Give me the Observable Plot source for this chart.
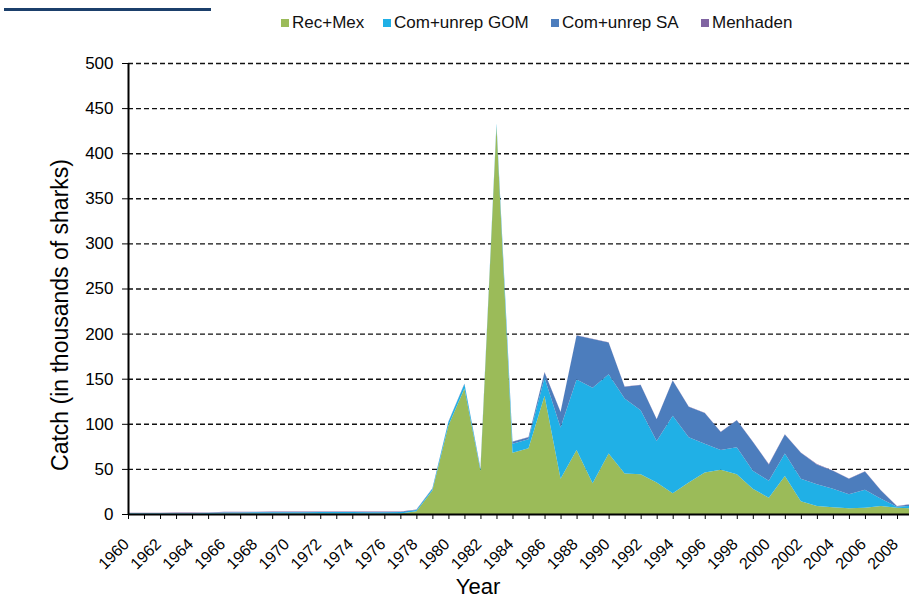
<!DOCTYPE html>
<html>
<head>
<meta charset="utf-8">
<script src="https://cdn.jsdelivr.net/npm/d3@7"></script>
<script src="https://cdn.jsdelivr.net/npm/@observablehq/plot@0.6"></script>
<style>
  html, body { margin: 0; padding: 0; background: #fff; overflow: hidden; }
  body { width: 909px; height: 598px; font-family: "Liberation Sans", Arial, sans-serif; }
  #header { position: relative; height: 40px; }
  #bar { position: absolute; left: 4px; top: 8px; width: 207px; height: 3px; background: #1B3F6B; }
  .item { position: absolute; top: 13px; font-size: 17px; color: #111; display: flex; align-items: center; white-space: nowrap; }
  .sw { width: 8px; height: 8px; margin-right: 3px; }
</style>
</head>
<body>
<div id="header"><div id="bar"></div></div>
<div id="chart"></div>
<script>
const seriesNames = ["Rec+Mex", "Com+unrep GOM", "Com+unrep SA", "Menhaden"];
const seriesColors = ["#9BBB59", "#20B0E6", "#4C7DBD", "#8064A2"];

const years = [1960,1961,1962,1963,1964,1965,1966,1967,1968,1969,
               1970,1971,1972,1973,1974,1975,1976,1977,1978,1979,
               1980,1981,1982,1983,1984,1985,1986,1987,1988,1989,
               1990,1991,1992,1993,1994,1995,1996,1997,1998,1999,
               2000,2001,2002,2003,2004,2005,2006,2007,2008,2009];

const recMex = [0.3,0.3,0.3,0.3,0.3,0.3,0.5,0.5,0.5,0.5,
                0.5,0.5,0.5,0.5,0.5,0.5,0.5,0.6,3,26,
                98,139,48,430,68,73,131,39,71,34,
                67,45,44,35,23,35,46,49,44,28,
                18,42,14,9,7.5,6.5,7,9,7,6];

const comGOM = [0.5,0.5,0.5,0.6,0.6,0.8,1.2,1.3,1.4,1.5,
                1.5,1.5,1.6,1.6,1.6,1.5,1.5,1.5,1.5,2,
                4,5,2,3,10,10,20,57,78,106,
                88,83,71,46,86,50,32,22,30,20,
                19,25,25,24,20.5,15.5,20,8,1,3];

const comSA = [0.2,0.2,0.2,0.2,0.2,0.2,0.2,0.2,0.2,0.2,
               0.2,0.2,0.2,0.2,0.2,0.2,0.2,0.2,0.3,0.3,
               0.3,0.3,0.3,0.3,2,2,6,17,49,54,
               35,13,28,24,39,34,34,20,30,32,
               18,21,29,22,20,17,20,9,0.6,2];

const menhaden = [0.5,0.5,0.5,0.5,0.5,0.5,0.5,0.5,0.5,0.5,
                  0.5,0.5,0.5,0.5,0.5,0.5,0.5,0.5,0.3,0.3,
                  0.3,0.3,0.3,0.3,0.3,0.3,0.3,0.3,0.3,0.3,
                  0.3,0.3,0.3,0.3,0.3,0.3,0.3,0.3,0.3,0.3,
                  0.3,0.3,0.3,0.3,0.3,0.3,0.3,0.3,0.3,0.3];

const yTicks = [0,50,100,150,200,250,300,350,400,450,500];
const gridTicks = [50,100,150,200,250,300,350,400,450,500];
const labelYears = [1960,1962,1964,1966,1968,1970,1972,1974,1976,1978,1980,1982,1984,
                    1986,1988,1990,1992,1994,1996,1998,2000,2002,2004,2006,2008];
const yTitle = "Catch (in thousands of sharks)";
const xTitle = "Year";

const seriesValues = [recMex, comGOM, comSA, menhaden];
const long = [];
years.forEach((yr, i) => {
  seriesNames.forEach((s, j) => long.push({year: yr, series: s, value: seriesValues[j][i]}));
});

// legend
const header = document.getElementById("header");
const legendLeft = [281, 383, 551, 701];
seriesNames.forEach((s, j) => {
  const it = document.createElement("div");
  it.className = "item";
  it.style.left = legendLeft[j] + "px";
  it.innerHTML = `<span class="sw" style="background:${seriesColors[j]}"></span><span>${s}</span>`;
  header.appendChild(it);
});

const chart = Plot.plot({
  width: 909,
  height: 558,
  marginLeft: 128,
  marginRight: 0,
  marginTop: 23,
  marginBottom: 84,
  style: {fontFamily: "'Liberation Sans', Arial, sans-serif", color: "#000", overflow: "hidden", background: "#fff"},
  x: {domain: [1960, 2008.75]},
  y: {domain: [0, 500]},
  color: {domain: seriesNames, range: seriesColors},
  marks: [
    Plot.ruleY(gridTicks, {stroke: "#111", strokeWidth: 1.4, strokeDasharray: "5,3"}),
    Plot.areaY(long, {x: "year", y: "value", fill: "series", order: seriesNames, clip: true}),
    Plot.ruleX([1960], {stroke: "#000", strokeWidth: 2}),
    Plot.ruleY([0], {stroke: "#000", strokeWidth: 2}),
    Plot.axisY({ticks: yTicks, tickSize: 6, tickPadding: 9, fontSize: 17, tickFormat: d => String(d),
                label: yTitle, labelAnchor: "center", labelArrow: "none", labelOffset: 77}),
    Plot.axisX({ticks: years, tickSize: 5, tickFormat: () => "", label: null}),
    Plot.axisX({ticks: labelYears, tickSize: 0, tickPadding: 14, tickRotate: -45, fontSize: 16,
                tickFormat: d => String(d), label: xTitle, labelAnchor: "center", labelArrow: "none", labelOffset: 79})
  ]
});
function shift(g, dx, dy) {
  const t = g.getAttribute("transform") || "";
  g.setAttribute("transform", `translate(${dx},${dy}) ${t}`.trim());
}
chart.querySelectorAll("g[aria-label='y-axis label']").forEach(g => {
  g.querySelectorAll("text").forEach(t => {
    t.setAttribute("font-size", "23");
    t.textContent = t.textContent.replace(/\s*[↑→←↓]\s*/g, "").trim();
  });
  shift(g, 0, 26);
});
chart.querySelectorAll("g[aria-label='x-axis label']").forEach(g => {
  g.querySelectorAll("text").forEach(t => {
    t.setAttribute("font-size", "22");
    t.textContent = t.textContent.replace(/\s*[↑→←↓]\s*/g, "").trim();
  });
  shift(g, -41, 0);
});
chart.querySelectorAll("g[aria-label='x-axis tick label']").forEach(g => shift(g, -2, 13));
document.getElementById("chart").appendChild(chart);
</script>
</body>
</html>
